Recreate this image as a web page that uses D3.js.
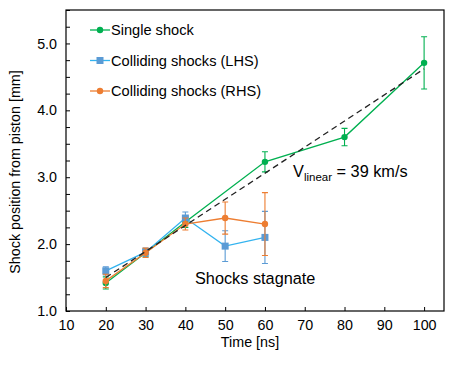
<!DOCTYPE html>
<html>
<head>
<meta charset="utf-8">
<script src="https://cdn.jsdelivr.net/npm/d3@7"></script>
<style>
  body { margin: 0; background: #fff; }
  text { font-family: "Liberation Sans", Arial, sans-serif; fill: #000; }
</style>
</head>
<body>
<div id="graf"></div>
<script>
// datos
const tSingle = [20, 30, 40, 60, 80, 100]
const ySingle = [1.42, 1.87, 2.33, 3.23, 3.60, 4.71]
const eSingle = [0.09, 0.06, 0.08, 0.15, 0.13, 0.39]

const tLHS = [20, 30, 40, 50, 60]
const yLHS = [1.60, 1.88, 2.39, 1.97, 2.10]
const eLHS = [0.06, 0.06, 0.09, 0.23, 0.39]

const tRHS = [20, 30, 40, 50, 60]
const yRHS = [1.45, 1.87, 2.30, 2.39, 2.30]
const eRHS = [0.10, 0.07, 0.09, 0.24, 0.47]

// ajuste lineal (39 km/s)
const tFit = [20, 100]
const yFit = [1.50, 4.62]

const xTicks = [10, 20, 30, 40, 50, 60, 70, 80, 90, 100]
const yTicks = [1.0, 2.0, 3.0, 4.0, 5.0]

const nombres = ['Single shock', 'Colliding shocks (LHS)', 'Colliding shocks (RHS)']

// I. Configuración
const ancho_total = 453
const alto_total = 365
const margins = { top: 10, left: 66, right: 9, bottom: 54 }
const ancho = ancho_total - margins.left - margins.right
const alto = alto_total - margins.top - margins.bottom

const svg = d3.select('#graf').append('svg')
  .attr('width', ancho_total)
  .attr('height', alto_total)

const g = svg.append('g')
  .attr('transform', `translate(${margins.left}, ${margins.top})`)

const x = d3.scaleLinear().domain([10, 105]).range([0, ancho])
const y = d3.scaleLinear().domain([1, 5.5]).range([alto, 0])

// ejes con ticks hacia dentro
const xAxis = g.append('g')
  .attr('transform', `translate(0, ${alto})`)
  .call(d3.axisBottom(x).tickValues(xTicks).tickSizeInner(-4).tickSizeOuter(0).tickPadding(9)
    .tickFormat(d => d))
xAxis.selectAll('text').style('font-size', '14.3px')

const yMinor = d3.range(1, 5.51, 0.25)
const yAxis = g.append('g')
  .call(d3.axisLeft(y).tickValues(yMinor).tickSizeInner(-4).tickSizeOuter(0).tickPadding(9)
    .tickFormat(d => yTicks.includes(d) ? d3.format('.1f')(d) : ''))
yAxis.selectAll('text').style('font-size', '14.3px')

svg.selectAll('.domain').remove()
svg.selectAll('.tick line').attr('stroke', '#000')

// marco
g.append('rect')
  .attr('x', 0).attr('y', 0)
  .attr('width', ancho).attr('height', alto)
  .attr('fill', 'none')
  .attr('stroke', '#000')
  .attr('stroke-width', 1.2)

// titulos
svg.append('text')
  .attr('x', 250).attr('y', 347)
  .attr('text-anchor', 'middle')
  .style('font-size', '14.3px')
  .text('Time [ns]')

svg.append('text')
  .attr('transform', 'translate(20, 172) rotate(-90)')
  .attr('text-anchor', 'middle')
  .style('font-size', '14.3px')
  .text('Shock position from piston [mm]')

// series
const series = [
  { t: tSingle, v: ySingle, e: eSingle, linea: '#00B050', marca: '#00B050', forma: 'circle' },
  { t: tLHS, v: yLHS, e: eLHS, linea: '#33B3EF', marca: '#5B9BD5', forma: 'square' },
  { t: tRHS, v: yRHS, e: eRHS, linea: '#ED7D31', marca: '#ED7D31', forma: 'circle' }
]

const line = d3.line().x(d => x(d[0])).y(d => y(d[1]))

series.forEach(s => {
  const pts = s.t.map((t, i) => [t, s.v[i], s.e[i]])
  const sg = g.append('g')

  sg.append('path')
    .datum(pts)
    .attr('d', line)
    .attr('fill', 'none')
    .attr('stroke', s.linea)
    .attr('stroke-width', 1.3)

  // barras de error
  sg.selectAll('.eb')
    .data(pts)
    .enter().append('path')
      .attr('d', d => {
        const cx = x(d[0]), y1 = y(d[1] + d[2]), y2 = y(d[1] - d[2])
        return `M${cx},${y1}V${y2}M${cx - 3},${y1}H${cx + 3}M${cx - 3},${y2}H${cx + 3}`
      })
      .attr('fill', 'none')
      .attr('stroke', s.marca)
      .attr('stroke-width', 1.1)

  if (s.forma === 'square') {
    sg.selectAll('.m')
      .data(pts)
      .enter().append('rect')
        .attr('x', d => x(d[0]) - 3.5)
        .attr('y', d => y(d[1]) - 3.5)
        .attr('width', 7).attr('height', 7)
        .attr('fill', s.marca)
  } else {
    sg.selectAll('.m')
      .data(pts)
      .enter().append('circle')
        .attr('cx', d => x(d[0]))
        .attr('cy', d => y(d[1]))
        .attr('r', 3.2)
        .attr('fill', s.marca)
  }
})

// linea de ajuste
g.append('path')
  .datum(tFit.map((t, i) => [t, yFit[i]]))
  .attr('d', line)
  .attr('fill', 'none')
  .attr('stroke', '#222')
  .attr('stroke-width', 1.3)
  .attr('stroke-dasharray', '6,4')

// leyenda
const leyenda = svg.append('g')
series.forEach((s, i) => {
  const ly = 30 + i * 30.5
  leyenda.append('line')
    .attr('x1', 90).attr('x2', 110).attr('y1', ly).attr('y2', ly)
    .attr('stroke', s.linea).attr('stroke-width', 1.3)
  if (s.forma === 'square') {
    leyenda.append('rect')
      .attr('x', 100 - 3.5).attr('y', ly - 3.5).attr('width', 7).attr('height', 7)
      .attr('fill', s.marca)
  } else {
    leyenda.append('circle')
      .attr('cx', 100).attr('cy', ly).attr('r', 3.2).attr('fill', s.marca)
  }
  leyenda.append('text')
    .attr('x', 111).attr('y', ly + 5)
    .style('font-size', '14.6px')
    .text(nombres[i])
})

// anotaciones
const vt = svg.append('text')
  .attr('x', 293).attr('y', 177)
  .style('font-size', '16.3px')
vt.append('tspan').text('V')
vt.append('tspan').attr('dy', 4).style('font-size', '11.5px').text('linear')
vt.append('tspan').attr('dy', -4).text(' = 39 km/s')

svg.append('text')
  .attr('x', 195).attr('y', 284)
  .style('font-size', '16.3px')
  .text('Shocks stagnate')
</script>
</body>
</html>
